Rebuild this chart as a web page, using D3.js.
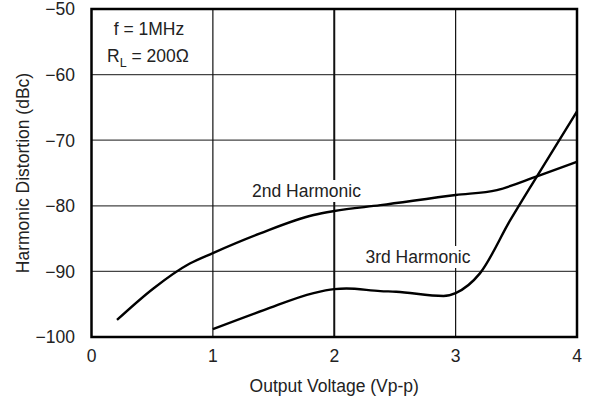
<!DOCTYPE html>
<html>
<head>
<meta charset="utf-8">
<script src="https://cdn.jsdelivr.net/npm/d3@7"></script>
<style>
  html, body { margin: 0; padding: 0; background: #fff; }
  svg { display: block; font-family: "Liberation Sans", Arial, sans-serif; }
</style>
</head>
<body>
<svg id="chart" width="590" height="402"></svg>
<script>
// Output voltage (Vp-p) and distortion (dBc) for each harmonic
const secondX = [0.21, 0.51, 0.81, 1.0, 1.39, 1.83, 2.0, 2.38, 3.0, 3.34, 3.67, 4.0];
const secondY = [-97.4, -92.6, -88.8, -87.2, -84.2, -81.4, -80.8, -79.9, -78.35, -77.6, -75.5, -73.3];
const thirdX = [1.0, 1.42, 1.83, 2.0, 2.1, 2.38, 2.51, 2.9, 3.0, 3.2, 3.45, 3.67, 4.0];
const thirdY = [-98.8, -95.9, -93.3, -92.7, -92.6, -93.0, -93.1, -93.75, -93.3, -90.3, -82.2, -75.5, -65.6];

const xTicks = [0, 1, 2, 3, 4];
const yTicks = [-100, -90, -80, -70, -60, -50];

const svg = d3.select("#chart");
const x = d3.scaleLinear().domain([0, 4]).range([91.5, 577]);
const y = d3.scaleLinear().domain([-100, -50]).range([337, 9]);

const textColor = "#222";
const fs = 17.5;

// grid
svg.append("g").selectAll("line").data(yTicks.slice(1, -1)).join("line")
  .attr("x1", x(0)).attr("x2", x(4))
  .attr("y1", d => y(d)).attr("y2", d => y(d))
  .attr("stroke", "#444").attr("stroke-width", 1.3);
svg.append("g").selectAll("line").data(xTicks.slice(1, -1)).join("line")
  .attr("x1", d => x(d)).attr("x2", d => x(d))
  .attr("y1", y(-50)).attr("y2", y(-100))
  .attr("stroke", "#111").attr("stroke-width", d => d === 2 ? 2 : 1.2);

// curves
const line = d3.line().x(d => x(d[0])).y(d => y(d[1])).curve(d3.curveMonotoneX);
const series = [d3.zip(secondX, secondY), d3.zip(thirdX, thirdY)];
svg.append("g").selectAll("path").data(series).join("path")
  .attr("d", line).attr("fill", "none")
  .attr("stroke", "#000").attr("stroke-width", 2.4).attr("stroke-linejoin", "round");

// curve labels with white backing
function label(txt, cx, cy) {
  const t = svg.append("text").attr("x", cx).attr("y", cy)
    .attr("text-anchor", "middle").attr("font-size", fs).attr("fill", textColor).text(txt);
  const b = t.node().getBBox();
  svg.insert("rect", "text").attr("x", b.x - 4).attr("y", b.y - 1)
    .attr("width", b.width + 8).attr("height", b.height + 2).attr("fill", "#fff");
}
label("2nd Harmonic", 306.5, 197);
label("3rd Harmonic", 418, 263);

// frame
svg.append("rect").attr("x", x(0)).attr("y", y(-50))
  .attr("width", x(4) - x(0)).attr("height", y(-100) - y(-50))
  .attr("fill", "none").attr("stroke", "#000").attr("stroke-width", 2.5);

// tick labels
svg.append("g").selectAll("text").data(yTicks).join("text")
  .attr("x", 75).attr("y", d => y(d) + 6.3)
  .attr("text-anchor", "end").attr("font-size", fs).attr("fill", textColor)
  .text(d => d3.format("")(d).replace("-", "\u2212"));
svg.append("g").selectAll("text").data(xTicks).join("text")
  .attr("x", d => x(d)).attr("y", 362)
  .attr("text-anchor", "middle").attr("font-size", fs).attr("fill", textColor)
  .text(d => d);

// axis titles
svg.append("text").attr("x", x(2)).attr("y", 392)
  .attr("text-anchor", "middle").attr("font-size", fs).attr("fill", textColor)
  .text("Output Voltage (Vp-p)");
svg.append("text").attr("transform", `translate(28.5,${(y(-50) + y(-100)) / 2}) rotate(-90)`)
  .attr("text-anchor", "middle").attr("font-size", fs).attr("fill", textColor)
  .text("Harmonic Distortion (dBc)");

// conditions
svg.append("text").attr("x", 149).attr("y", 35).attr("text-anchor", "middle")
  .attr("font-size", fs).attr("fill", textColor).text("f = 1MHz");
const rl = svg.append("text").attr("x", 107).attr("y", 62)
  .attr("font-size", fs).attr("fill", textColor);
rl.append("tspan").text("R");
rl.append("tspan").attr("font-size", 12.5).attr("dy", 5).text("L");
rl.append("tspan").attr("dy", -5).text(" = 200\u03A9");
</script>
</body>
</html>
